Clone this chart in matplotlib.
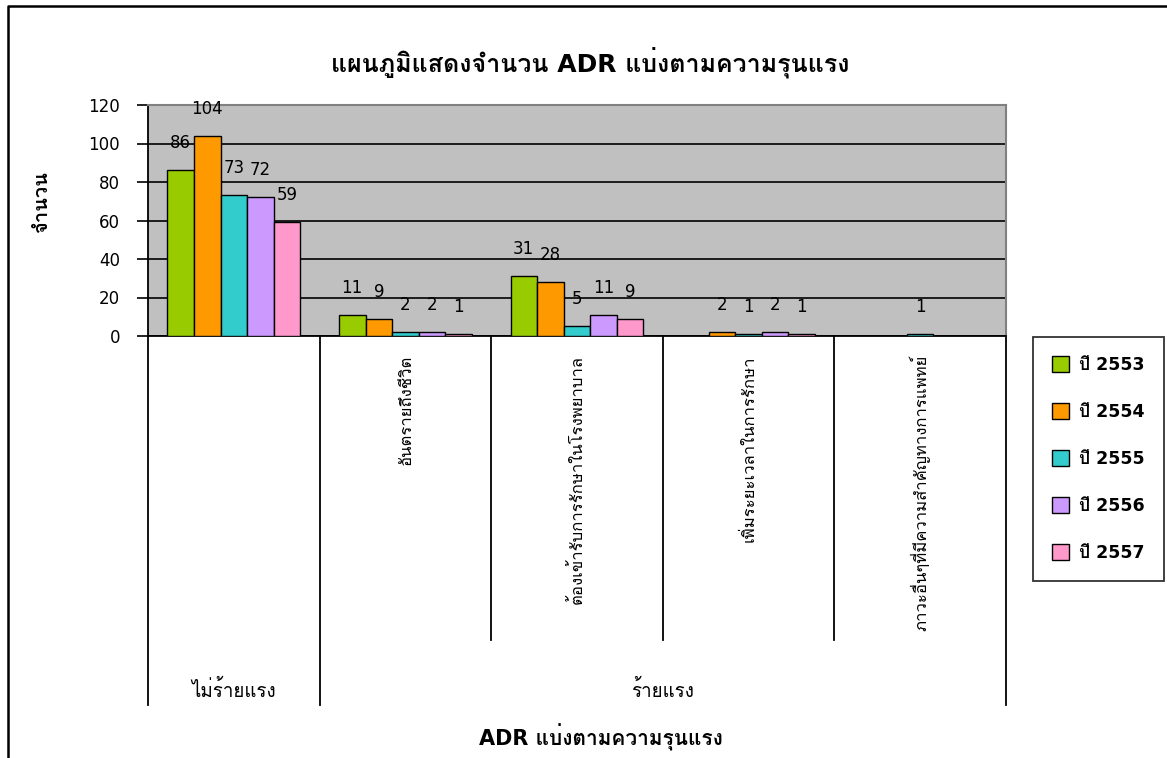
import numpy as np
import matplotlib
matplotlib.use("Agg")
import matplotlib.pyplot as plt
from matplotlib.lines import Line2D
from matplotlib.transforms import blended_transform_factory

# DejaVu for latin/digits, Loma picks up the Thai glyphs
plt.rcParams['font.family'] = ['DejaVu Sans', 'Loma']

# ADR counts by severity, one list per year (nan = no entry)
groups = ["ไม่ร้ายแรง", "ร้ายแรง"]
group_span = [(0, 0), (1, 4)]
sub_labels = ["", "อันตรายถึงชีวิต", "ต้องเข้ารับการรักษาในโรงพยาบาล",
              "เพิ่มระยะเวลาในการรักษา", "ภาวะอื่นๆที่มีความสำคัญทางการแพทย์"]
years = ["ปี 2553", "ปี 2554", "ปี 2555", "ปี 2556", "ปี 2557"]
y2553 = [86, 11, 31, np.nan, np.nan]
y2554 = [104, 9, 28, 2, np.nan]
y2555 = [73, 2, 5, 1, 1]
y2556 = [72, 2, 11, 2, np.nan]
y2557 = [59, 1, 9, 1, np.nan]
series = [y2553, y2554, y2555, y2556, y2557]
colors = ["#99CC00", "#FF9900", "#33CCCC", "#CC99FF", "#FF99CC"]

W, H = 1167, 758
fig = plt.figure(figsize=(W / 100, H / 100), dpi=100)
ax = fig.add_axes([148 / W, 1 - 336 / H, 858 / W, 231 / H])
ax.set_facecolor("#C0C0C0")

x = np.arange(len(sub_labels))
bw = 0.155
for i, (vals, c, name) in enumerate(zip(series, colors, years)):
    pos = x + (i - 2) * bw
    ax.bar(pos, vals, bw, color=c, edgecolor="black", linewidth=1.0,
           label=name, zorder=3)
    for p, v in zip(pos, vals):
        if not np.isnan(v):
            ax.annotate(f"{v:g}", (p, v), xytext=(0, 19.5), textcoords="offset points",
                        ha="center", va="center", fontsize=12, zorder=4)

ax.set_xlim(-0.5, len(sub_labels) - 0.5)
ax.set_ylim(0, 120)
ax.set_yticks(range(0, 121, 20))
ax.yaxis.grid(True, color="black", linewidth=1.2, zorder=1)
ax.set_axisbelow(True)
ax.tick_params(axis="y", length=8, width=1.2, pad=12, labelsize=12)
ax.set_xticks([])
for side in ["top", "right"]:
    ax.spines[side].set_color("#808080")
    ax.spines[side].set_linewidth(1.5)
for side in ["left", "bottom"]:
    ax.spines[side].set_color("black")
    ax.spines[side].set_linewidth(1.3)

# two-level category axis below the plot
tr = blended_transform_factory(ax.transData, ax.transAxes)
deep = -(705 - 336) / 231
short = -(640 - 336) / 231
for b in [-0.5, 0.5, 4.5]:
    ax.add_line(Line2D([b, b], [0, deep], transform=tr, color="black", lw=1.3, clip_on=False))
for b in [1.5, 2.5, 3.5]:
    ax.add_line(Line2D([b, b], [0, short], transform=tr, color="black", lw=1.3, clip_on=False))
for xi, lab in zip(x, sub_labels):
    if lab:
        ax.text(xi, -(355 - 336) / 231, lab, transform=tr, rotation=90,
                ha="center", va="top", fontsize=12)
gy = -(690 - 336) / 231
for g, (a, b) in zip(groups, group_span):
    ax.text((a + b) / 2, gy, g, transform=tr, ha="center", va="center", fontsize=13.5)

fig.text(590 / W, 1 - 62 / H, "แผนภูมิแสดงจำนวน ADR แบ่งตามความรุนแรง",
         ha="center", va="center", fontsize=18, fontweight="bold")
fig.text(42 / W, 1 - 202 / H, "จำนวน", rotation=90, ha="center", va="center",
         fontsize=14.5, fontweight="bold")
fig.text(601 / W, 1 - 737 / H, "ADR แบ่งตามความรุนแรง", ha="center", va="center",
         fontsize=15, fontweight="bold")

leg = ax.legend(loc="upper left", bbox_to_anchor=(1033 / W, 1 - 337 / H),
                bbox_transform=fig.transFigure, frameon=True, fancybox=False,
                edgecolor="black", prop={"weight": "bold", "size": 12.5},
                handlelength=1.0, handleheight=1.0, labelspacing=1.67,
                borderpad=1.1, handletextpad=0.55, borderaxespad=0)
leg.get_frame().set_linewidth(1.3)

# outer chart border
fig.add_artist(Line2D([8 / W, 8 / W, 1], [0, 1 - 6 / H, 1 - 6 / H],
                      transform=fig.transFigure, color="black", lw=1.8))

fig.savefig("out.png", dpi=100)
